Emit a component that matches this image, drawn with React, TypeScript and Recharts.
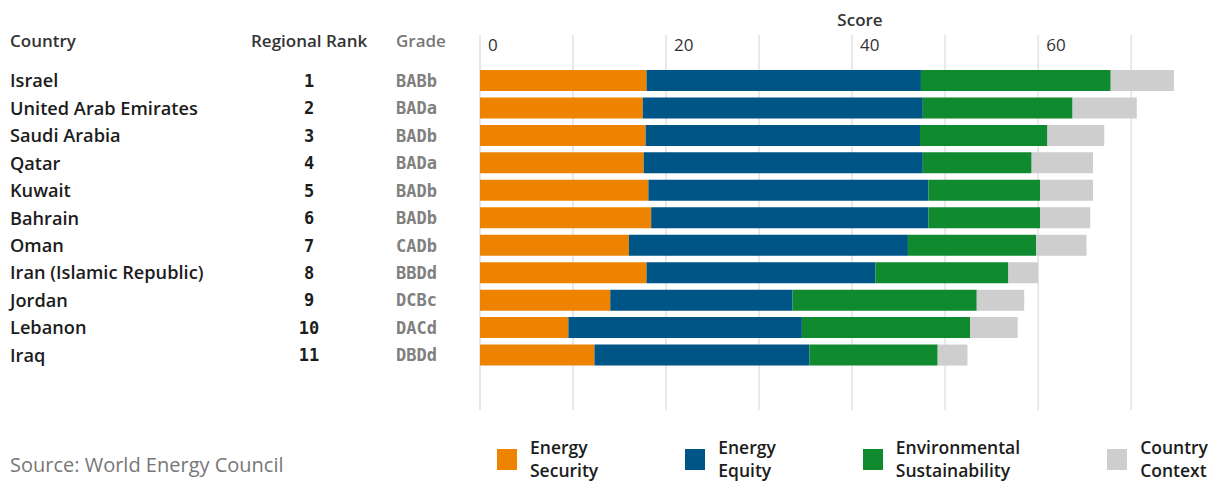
import { BarChart, Bar, XAxis, YAxis, CartesianGrid } from 'recharts';

const countries = [
    'Israel',
    'United Arab Emirates',
    'Saudi Arabia',
    'Qatar',
    'Kuwait',
    'Bahrain',
    'Oman',
    'Iran (Islamic Republic)',
    'Jordan',
    'Lebanon',
    'Iraq',
];
const ranks = ['1', '2', '3', '4', '5', '6', '7', '8', '9', '10', '11'];
const grades = ['BABb', 'BADa', 'BADb', 'BADa', 'BADb', 'BADb', 'CADb', 'BBDd', 'DCBc', 'DACd', 'DBDd'];

const energySecurity = [17.9, 17.5, 17.8, 17.6, 18.1, 18.4, 16.0, 17.9, 14.0, 9.5, 12.3];
const energyEquity = [29.5, 30.1, 29.5, 30.0, 30.1, 29.8, 30.0, 24.6, 19.6, 25.1, 23.1];
const environmental = [20.4, 16.1, 13.7, 11.7, 12.0, 12.0, 13.8, 14.3, 19.8, 18.1, 13.8];
const countryContext = [6.8, 6.9, 6.1, 6.6, 5.7, 5.4, 5.4, 3.2, 5.1, 5.1, 3.2];

const scoreTicks = [0, 10, 20, 30, 40, 50, 60, 70];

const series = [
    { key: 'security', label: ['Energy', 'Security'], color: '#ee8300' },
    { key: 'equity', label: ['Energy', 'Equity'], color: '#005587' },
    { key: 'environment', label: ['Environmental', 'Sustainability'], color: '#0f8a2f' },
    { key: 'context', label: ['Country', 'Context'], color: '#cecece' },
];

const data = countries.map((name, i) => ({
    name,
    security: energySecurity[i],
    equity: energyEquity[i],
    environment: environmental[i],
    context: countryContext[i],
}));

const labelFont = '"Open Sans", sans-serif';
const monoFont = '"DejaVu Sans Mono", monospace';

const CountryTick = (props: any) => {
    const { y, payload } = props;
    const i = countries.indexOf(payload.value);
    return (
        <g>
            <text x={10} y={y} dy="0.36em" fontFamily={labelFont} fontWeight={600} fontSize={18.2} fill="#1c1c1c">
                {payload.value}
            </text>
            <text x={309} y={y} dy="0.36em" textAnchor="middle" fontFamily={monoFont} fontWeight={700} fontSize={17} fill="#1c1c1c">
                {ranks[i]}
            </text>
            <text x={396} y={y} dy="0.36em" fontFamily={monoFont} fontWeight={700} fontSize={17} fill="#808080">
                {grades[i]}
            </text>
        </g>
    );
};

const ScoreTick = (props: any) => {
    const { x, payload } = props;
    if (payload.value % 20 !== 0) return <g />;
    return (
        <text x={x + 8} y={51} fontFamily={labelFont} fontWeight={500} fontSize={17} fill="#333">
            {payload.value}
        </text>
    );
};

const headStyle = {
    position: 'absolute' as const,
    top: 30,
    fontFamily: labelFont,
    fontWeight: 600,
    fontSize: 17,
    color: '#333',
    lineHeight: '22px',
};

export default function App() {
    return (
        <div style={{ position: 'absolute', left: 0, top: 0, width: 1217, height: 481, background: '#fff' }}>
            <BarChart
                width={1217}
                height={481}
                data={data}
                layout="vertical"
                margin={{ top: 0, right: 30, bottom: 71, left: 0 }}
                barCategoryGap={3}
            >
                <CartesianGrid horizontal={false} syncWithTicks stroke="#e8e8e8" strokeWidth={2} />
                <XAxis
                    type="number"
                    orientation="top"
                    domain={[0, 76]}
                    ticks={scoreTicks}
                    height={35}
                    axisLine={false}
                    tickLine={false}
                    tick={<ScoreTick />}
                />
                <YAxis
                    type="category"
                    dataKey="name"
                    width={480}
                    axisLine={false}
                    tickLine={false}
                    padding={{ top: 32, bottom: 41 }}
                    tick={<CountryTick />}
                    interval={0}
                />
                {series.map((s) => (
                    <Bar key={s.key} dataKey={s.key} stackId="score" fill={s.color} isAnimationActive={false} />
                ))}
            </BarChart>

            <div style={{ ...headStyle, left: 10 }}>Country</div>
            <div style={{ ...headStyle, left: 251 }}>Regional Rank</div>
            <div style={{ ...headStyle, left: 396, color: '#777' }}>Grade</div>
            <div style={{ ...headStyle, top: 9, left: 822, width: 76, textAlign: 'center' }}>Score</div>

            <div
                style={{
                    position: 'absolute',
                    left: 10,
                    top: 451,
                    fontFamily: labelFont,
                    fontSize: 20,
                    color: '#777',
                    lineHeight: '28px',
                }}
            >
                Source: World Energy Council
            </div>

            <div
                style={{
                    position: 'absolute',
                    left: 497,
                    top: 436,
                    width: 711,
                    display: 'flex',
                    justifyContent: 'space-between',
                }}
            >
                {series.map((s) => (
                    <div key={s.key} style={{ display: 'flex', alignItems: 'center' }}>
                        <div style={{ width: 20, height: 21, background: s.color, marginRight: 13 }} />
                        <div
                            style={{
                                fontFamily: labelFont,
                                fontWeight: 600,
                                fontSize: 17.5,
                                lineHeight: '23px',
                                color: '#1c1c1c',
                            }}
                        >
                            {s.label[0]}
                            <br />
                            {s.label[1]}
                        </div>
                    </div>
                ))}
            </div>
        </div>
    );
}
